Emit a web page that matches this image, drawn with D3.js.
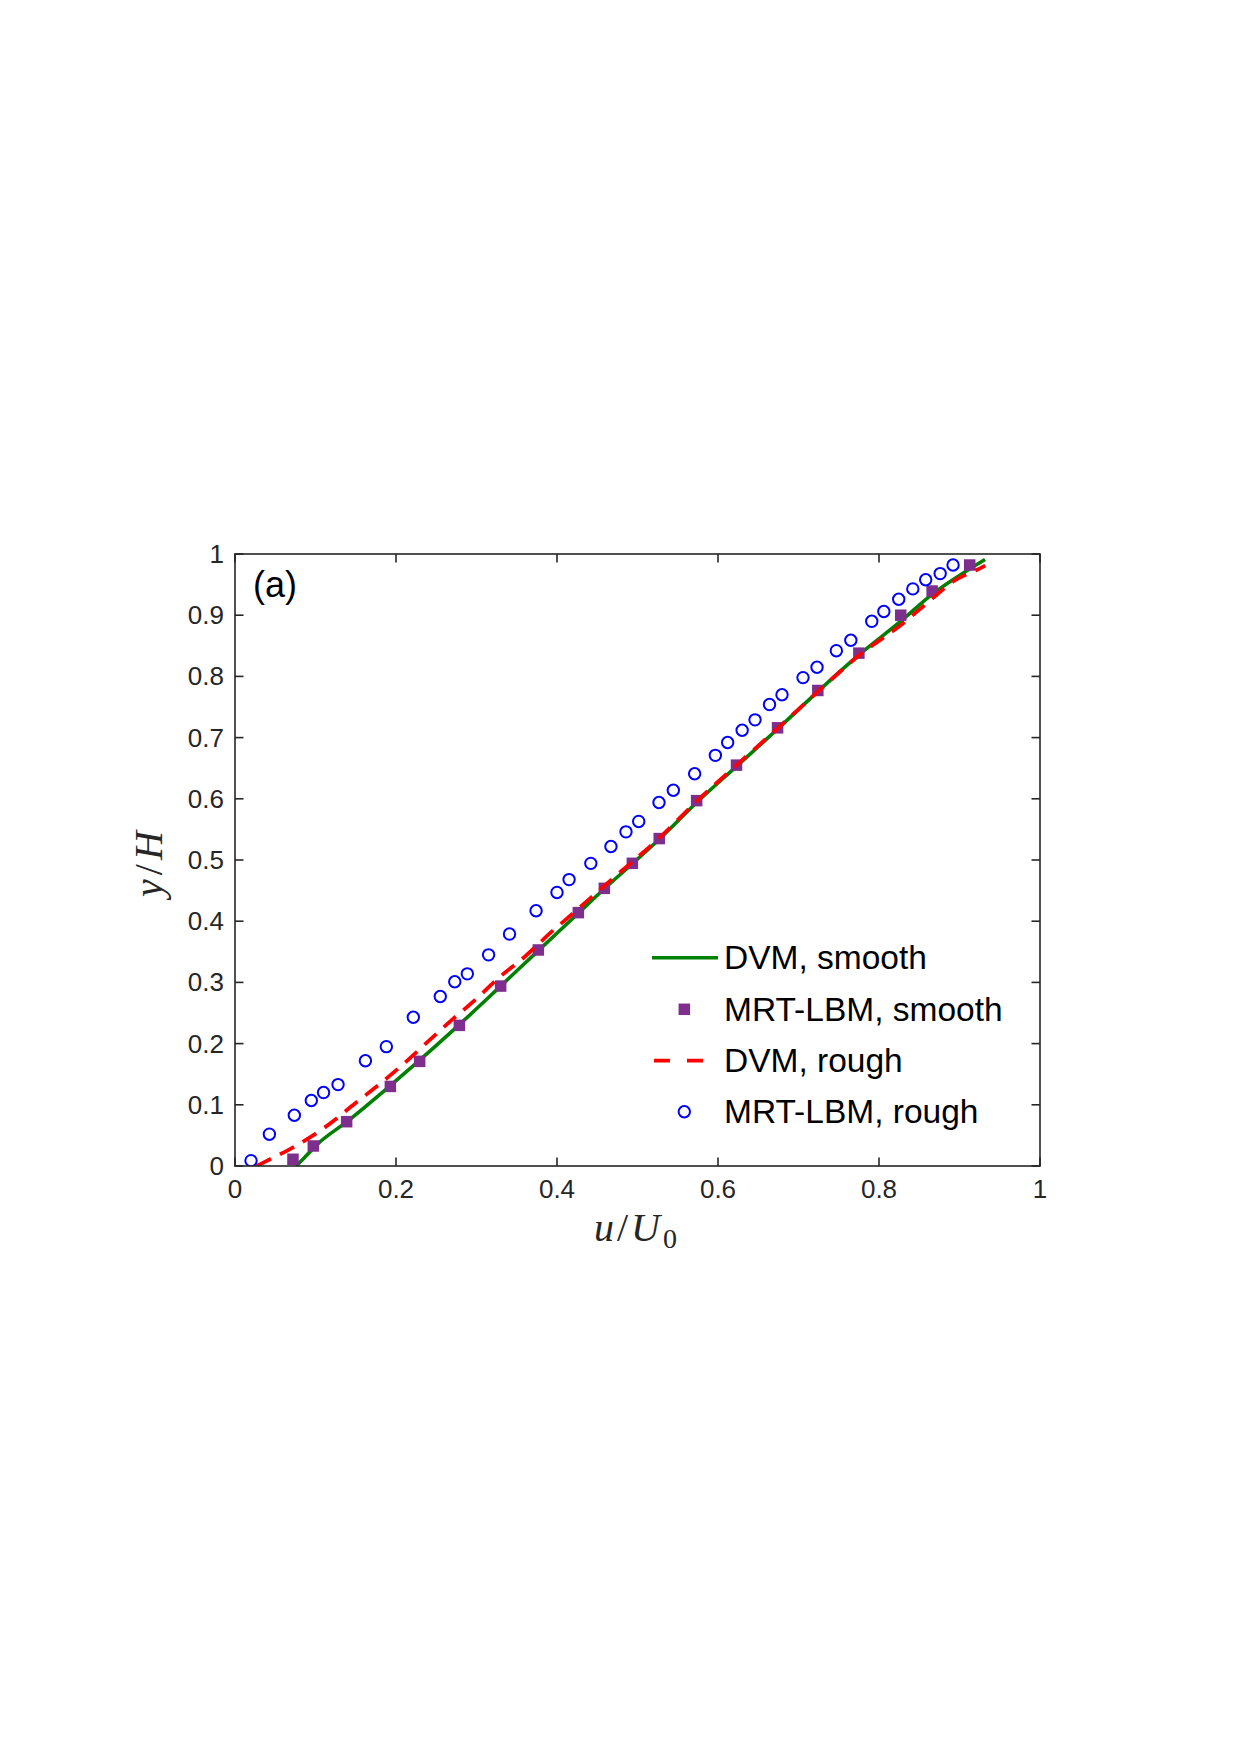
<!DOCTYPE html>
<html>
<head>
<meta charset="utf-8">
<script src="https://cdn.jsdelivr.net/npm/d3@7"></script>
<style>
  html, body { margin: 0; padding: 0; background: #ffffff; }
  svg { display: block; }
</style>
</head>
<body>
<svg id="chart" width="1240" height="1755"></svg>
<script>
// ---------- data ----------
const xTicks = [0, 0.2, 0.4, 0.6, 0.8, 1];
const yTicks = [0, 0.1, 0.2, 0.3, 0.4, 0.5, 0.6, 0.7, 0.8, 0.9, 1];
const xTickLabels = ["0", "0.2", "0.4", "0.6", "0.8", "1"];
const yTickLabels = ["0", "0.1", "0.2", "0.3", "0.4", "0.5", "0.6", "0.7", "0.8", "0.9", "1"];

const seriesNames = ["DVM, smooth", "MRT-LBM, smooth", "DVM, rough", "MRT-LBM, rough"];

// DVM, smooth (solid green line): [u/U0, y/H]
const dvmSmooth = [
  [0.076, 0.0], [0.085, 0.012], [0.1035, 0.037], [0.139, 0.0724], [0.1925, 0.131],
  [0.2484, 0.195], [0.2787, 0.231], [0.330, 0.294], [0.3768, 0.352], [0.4265, 0.413],
  [0.4588, 0.453], [0.4936, 0.494], [0.527, 0.534], [0.5735, 0.594], [0.623, 0.653],
  [0.674, 0.714], [0.724, 0.775], [0.775, 0.835], [0.826, 0.889], [0.8675, 0.9357],
  [0.90, 0.965], [0.9317, 0.991]
];

// MRT-LBM, smooth (purple squares)
const lbmSmooth = [
  [0.072, 0.011], [0.0973, 0.0327], [0.1387, 0.0724], [0.193, 0.130], [0.2294, 0.171],
  [0.2787, 0.2298], [0.330, 0.294], [0.3768, 0.353], [0.4265, 0.414], [0.4588, 0.4537],
  [0.4936, 0.4946], [0.527, 0.535], [0.5735, 0.597], [0.623, 0.655], [0.674, 0.716],
  [0.724, 0.777], [0.775, 0.838], [0.827, 0.900], [0.866, 0.9395], [0.9127, 0.982]
];

// DVM, rough (red dashed line)
const dvmRough = [
  [0.027, 0.0], [0.045, 0.012], [0.066, 0.026], [0.110, 0.0616], [0.149, 0.102],
  [0.2008, 0.157], [0.242, 0.206], [0.267, 0.236], [0.298, 0.271], [0.329, 0.309],
  [0.360, 0.342], [0.391, 0.380], [0.420, 0.413], [0.453, 0.451], [0.482, 0.484],
  [0.527, 0.536], [0.5735, 0.596], [0.623, 0.655], [0.674, 0.715], [0.724, 0.775],
  [0.775, 0.834], [0.830, 0.887], [0.859, 0.919], [0.892, 0.955], [0.9255, 0.9766],
  [0.932, 0.981]
];

// MRT-LBM, rough (blue open circles)
const lbmRough = [
  [0.0199, 0.0087], [0.0427, 0.052], [0.0737, 0.083], [0.0948, 0.107], [0.110, 0.120],
  [0.128, 0.133], [0.162, 0.172], [0.188, 0.195], [0.2215, 0.243], [0.255, 0.277],
  [0.273, 0.301], [0.2886, 0.314], [0.315, 0.345], [0.341, 0.379], [0.374, 0.417],
  [0.400, 0.447], [0.415, 0.468], [0.442, 0.4945], [0.467, 0.522], [0.4857, 0.546],
  [0.5015, 0.563], [0.5267, 0.594], [0.5445, 0.614], [0.571, 0.641], [0.5967, 0.671],
  [0.612, 0.692], [0.630, 0.712], [0.646, 0.729], [0.664, 0.754], [0.6795, 0.770],
  [0.7056, 0.798], [0.723, 0.815], [0.747, 0.842], [0.765, 0.859], [0.791, 0.890],
  [0.806, 0.906], [0.8245, 0.926], [0.842, 0.943], [0.858, 0.958], [0.876, 0.968],
  [0.892, 0.982]
];

// ---------- layout ----------
const L = 235, T = 554, W = 805, H = 612;
const axisColor = "#262626";
const sans = "'Liberation Sans', Arial, Helvetica, sans-serif";
const serif = "'Liberation Serif', 'Times New Roman', serif";

const svg = d3.select("#chart");
const x = d3.scaleLinear().domain([0, 1]).range([L, L + W]);
const y = d3.scaleLinear().domain([0, 1]).range([T + H, T]);

const g = svg.append("g");

// ---------- data marks ----------
const clipId = "plotclip";
svg.append("defs").append("clipPath").attr("id", clipId)
  .append("rect").attr("x", L).attr("y", T - 10).attr("width", W).attr("height", H + 10);

const line = d3.line().x(d => x(d[0])).y(d => y(d[1])).curve(d3.curveMonotoneX);

const plot = g.append("g").attr("clip-path", `url(#${clipId})`);

plot.append("path").datum(dvmSmooth)
  .attr("d", line).attr("fill", "none")
  .attr("stroke", "#008000").attr("stroke-width", 3.6);

const sq = 11.5;
plot.selectAll("rect.sq").data(lbmSmooth).join("rect")
  .attr("class", "sq")
  .attr("x", d => x(d[0]) - sq / 2).attr("y", d => y(d[1]) - sq / 2)
  .attr("width", sq).attr("height", sq)
  .attr("fill", "#7E2F8E");

plot.append("path").datum(dvmRough)
  .attr("d", line).attr("fill", "none")
  .attr("stroke", "#ff0000").attr("stroke-width", 3.8)
  .attr("stroke-dasharray", "16,10");

plot.selectAll("circle.rc").data(lbmRough).join("circle")
  .attr("class", "rc")
  .attr("cx", d => x(d[0])).attr("cy", d => y(d[1])).attr("r", 5.7)
  .attr("fill", "none").attr("stroke", "#0000ff").attr("stroke-width", 2);

// ---------- axes box and ticks ----------
const tickLen = 8.5;
const axes = g.append("g");
axes.append("rect").attr("x", L).attr("y", T).attr("width", W).attr("height", H)
  .attr("fill", "none").attr("stroke", axisColor).attr("stroke-width", 1.6);

xTicks.forEach(t => {
  axes.append("line").attr("x1", x(t)).attr("x2", x(t)).attr("y1", T + H).attr("y2", T + H - tickLen)
    .attr("stroke", axisColor).attr("stroke-width", 1.6);
  axes.append("line").attr("x1", x(t)).attr("x2", x(t)).attr("y1", T).attr("y2", T + tickLen)
    .attr("stroke", axisColor).attr("stroke-width", 1.6);
});
yTicks.forEach(t => {
  axes.append("line").attr("x1", L).attr("x2", L + tickLen).attr("y1", y(t)).attr("y2", y(t))
    .attr("stroke", axisColor).attr("stroke-width", 1.6);
  axes.append("line").attr("x1", L + W).attr("x2", L + W - tickLen).attr("y1", y(t)).attr("y2", y(t))
    .attr("stroke", axisColor).attr("stroke-width", 1.6);
});

// tick labels
axes.selectAll("text.xt").data(xTicks).join("text")
  .attr("class", "xt")
  .attr("x", d => x(d)).attr("y", T + H + 32)
  .attr("text-anchor", "middle")
  .attr("font-family", sans).attr("font-size", 26).attr("fill", axisColor)
  .text((d, i) => xTickLabels[i]);

axes.selectAll("text.yt").data(yTicks).join("text")
  .attr("class", "yt")
  .attr("x", L - 11).attr("y", d => y(d) + 9)
  .attr("text-anchor", "end")
  .attr("font-family", sans).attr("font-size", 26).attr("fill", axisColor)
  .text((d, i) => yTickLabels[i]);

// axis labels (LaTeX-like italics)
const xl = g.append("text")
  .attr("x", 637).attr("y", 1241)
  .attr("text-anchor", "middle")
  .attr("font-family", serif).attr("font-size", 40).attr("fill", axisColor)
  .attr("letter-spacing", 3);
xl.append("tspan").attr("font-style", "italic").text("u");
xl.append("tspan").text("/");
xl.append("tspan").attr("font-style", "italic").text("U");
xl.append("tspan").attr("font-size", 28).attr("dy", 7).text("0");

const yl = g.append("text")
  .attr("transform", "translate(162,862) rotate(-90)")
  .attr("text-anchor", "middle")
  .attr("font-family", serif).attr("font-size", 40).attr("fill", axisColor)
  .attr("letter-spacing", 4);
yl.append("tspan").attr("font-style", "italic").text("y");
yl.append("tspan").text("/");
yl.append("tspan").attr("font-style", "italic").text("H");

// panel label
g.append("text").attr("x", 253).attr("y", 597)
  .attr("font-family", sans).attr("font-size", 36).attr("fill", "#000")
  .text("(a)");

// ---------- legend ----------
const legRows = [957.7, 1009.3, 1060.7, 1111.7];
const leg = g.append("g");
leg.append("line").attr("x1", 652).attr("x2", 718).attr("y1", legRows[0]).attr("y2", legRows[0])
  .attr("stroke", "#008000").attr("stroke-width", 3.6);
leg.append("rect").attr("x", 684.3 - sq / 2).attr("y", legRows[1] - sq / 2)
  .attr("width", sq).attr("height", sq).attr("fill", "#7E2F8E");
leg.append("line").attr("x1", 654).attr("x2", 704).attr("y1", legRows[2]).attr("y2", legRows[2])
  .attr("stroke", "#ff0000").attr("stroke-width", 3.8).attr("stroke-dasharray", "16,17");
leg.append("circle").attr("cx", 684.3).attr("cy", legRows[3]).attr("r", 5.7)
  .attr("fill", "none").attr("stroke", "#0000ff").attr("stroke-width", 2);

leg.selectAll("text.lg").data(seriesNames).join("text")
  .attr("class", "lg")
  .attr("x", 724).attr("y", (d, i) => legRows[i] + 11.5)
  .attr("font-family", sans).attr("font-size", 33.5).attr("fill", "#000")
  .text(d => d);
</script>
</body>
</html>
